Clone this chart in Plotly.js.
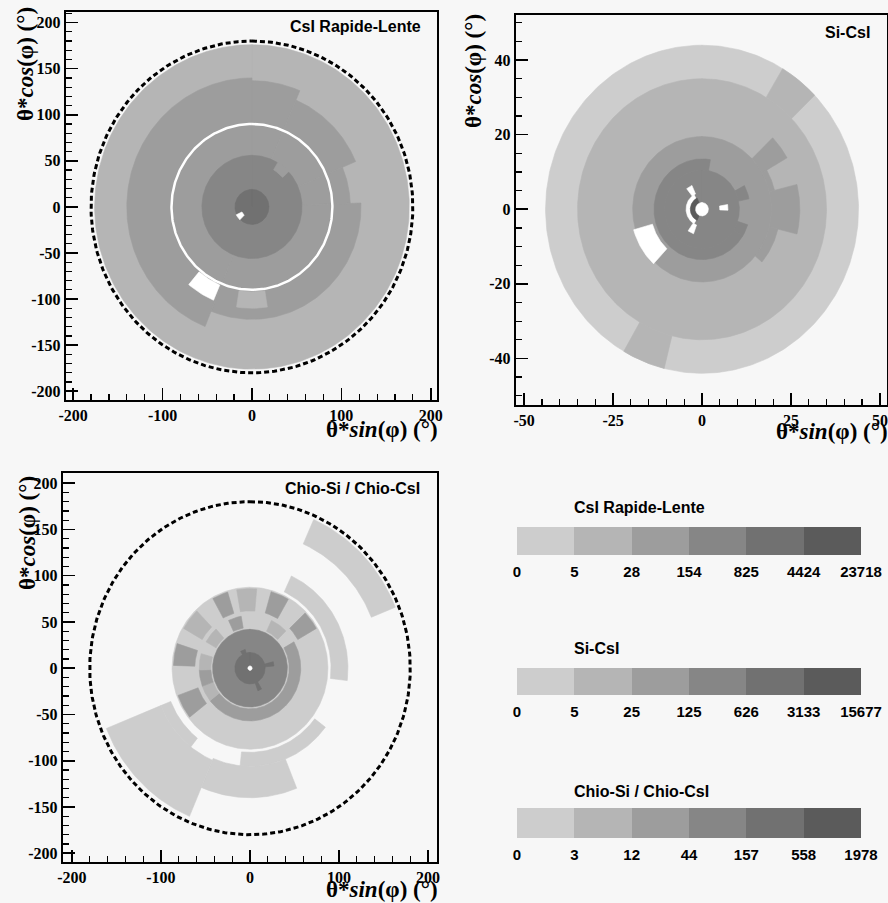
<!DOCTYPE html>
<html>
<head>
<meta charset="utf-8">
<script src="https://cdn.plot.ly/plotly-3.0.1.min.js"></script>
<style>
  html, body { margin: 0; padding: 0; background: #f7f7f7; }
  #chart { width: 888px; height: 903px; }
</style>
</head>
<body>
<div id="chart"></div>
<script>
// ---------------- DATA ----------------
// grey levels: 0 = empty (white), 1..6 = colour bins (light -> dark)
const levelColors = ['#ffffff', '#cdcdcd', '#b5b5b5', '#9d9d9d', '#868686', '#717171', '#5b5b5b'];

// Panel 1 : CsI Rapide-Lente  (theta ranges in deg, phi ranges in deg, level)
const p1_thetaMin = [0,   0,   0,  0,  0,   0,   92,  92,  0,   47, 0,   12.5];
const p1_thetaMax = [176, 137, 126, 110, 122, 140, 110, 110, 56,  57, 19,  19.5];
const p1_phiMin   = [0,   0,   23, 67, 88,  202, 203, 171, 0,   31, 0,   224];
const p1_phiMax   = [360, 23,  67, 88, 202, 360, 220, 189, 360, 47, 360, 244];
const p1_level    = [2,   3,   3,  3,  3,   3,   0,   2,   4,   3,  5,   0];
const p1_whiteRing = 90;
const p1_acceptance = 180;
const p1_xTicks = [-200, -100, 0, 100, 200];
const p1_yTicks = [-200, -150, -100, -50, 0, 50, 100, 150, 200];

// Panel 2 : Si-CsI
const p2_thetaMin = [0,  0,  35, 35,  0,    19.5, 19.5, 19.5, 19.5, 14.5, 0,    10.5, 10.5, 10.5, 5,   4.5, 4.5, 3.3, 2,   0];
const p2_thetaMax = [44, 35, 44, 44,  19.5, 27.6, 21,   27.5, 22,   20,   10.5, 13.5, 13.5, 13.5, 7.3, 7,   7,   4.5, 3.3, 1.8];
const p2_phiMin   = [0,  0,  31, 194, 0,    46,   60,   76,   104,  223,  0,    122,  62,   108,  80,  322, 200, 210, 205, 0];
const p2_phiMax   = [360,360,46, 210, 360,  60,   76,   104,  130,  254,  360,  370,  78,   122,  92,  336, 214, 330, 335, 360];
const p2_level    = [1,  2,  2,  2,   3,    3,    3,    3,    3,    0,    4,    4,    4,    4,    0,   0,   0,   0,   6,   0];
const p2_xTicks = [-50, -25, 0, 25, 50];
const p2_yTicks = [-40, -20, 0, 20, 40];

// Panel 3 : Chio-Si / Chio-CsI
const p3_thetaMin = [147, 91,  91,  106, 108, 96,  0,    44,  44,  44,  44,  44,  44,  44,  62,  62,  62,  62,  62,  62,  62,  0,   0,   17,  17,  17,  0];
const p3_thetaMax = [176, 110, 106, 140, 174, 108, 87.5, 57,  57,  57,  57,  57,  57,  57,  86,  86,  86,  86,  86,  86,  86,  42,  17,  27,  26,  21,  2.5];
const p3_phiMin   = [24,  25,  127, 158, 203, 218, 0,    60,  232, 250, 268, 300, 335, 25,  16,  46,  331, 272, 232, 300, 350, 0,   0,   75,  150, 330, 0];
const p3_phiMax   = [68,  97,  186, 203, 248, 248, 360,  232, 250, 268, 286, 318, 350, 45,  30,  60,  343, 288, 250, 316, 365, 360, 360, 85,  160, 345, 360];
const p3_level    = [1,   1,   1,   1,   1,   1,   1,    3,   2,   3,   2,   2,   3,   2,   3,   3,   3,   3,   3,   2,   2,   4,   5,   5,   5,   5,   0];
const p3_acceptance = 180;
const p3_xTicks = [-200, -100, 0, 100, 200];
const p3_yTicks = [-200, -150, -100, -50, 0, 50, 100, 150, 200];

// colour scale legends
const cb1_title = 'CsI Rapide-Lente';
const cb1_labels = ['0', '5', '28', '154', '825', '4424', '23718'];
const cb2_title = 'Si-CsI';
const cb2_labels = ['0', '5', '25', '125', '626', '3133', '15677'];
const cb3_title = 'Chio-Si / Chio-CsI';
const cb3_labels = ['0', '3', '12', '44', '157', '558', '1978'];
const cb_levels = [1, 2, 3, 4, 5, 6];

// ---------------- BUILD ----------------
const D2R = Math.PI / 180;
function sectorPoly(r0, r1, a0, a1) {
  const xs = [], ys = [];
  const n = Math.max(2, Math.ceil(Math.abs(a1 - a0)));
  for (let i = 0; i <= n; i++) {
    const a = (a0 + (a1 - a0) * i / n) * D2R;
    xs.push(r1 * Math.sin(a)); ys.push(r1 * Math.cos(a));
  }
  if (r0 > 0) {
    for (let i = n; i >= 0; i--) {
      const a = (a0 + (a1 - a0) * i / n) * D2R;
      xs.push(r0 * Math.sin(a)); ys.push(r0 * Math.cos(a));
    }
  } else { xs.push(0); ys.push(0); }
  xs.push(xs[0]); ys.push(ys[0]);
  return {xs, ys};
}
function circle(r, step) {
  const xs = [], ys = [];
  for (let a = 0; a <= 360; a += step) { xs.push(r * Math.sin(a * D2R)); ys.push(r * Math.cos(a * D2R)); }
  return {xs, ys};
}
const traces = [];
function addPanel(tMin, tMax, pMin, pMax, lvl, xa, ya) {
  for (let i = 0; i < tMin.length; i++) {
    const p = sectorPoly(tMin[i], tMax[i], pMin[i], pMax[i]);
    const c = levelColors[lvl[i]];
    traces.push({type: 'scatter', mode: 'lines', x: p.xs, y: p.ys, xaxis: xa, yaxis: ya,
      fill: 'toself', fillcolor: c, line: {color: c, width: 0.6}, hoverinfo: 'skip', showlegend: false});
  }
}
addPanel(p1_thetaMin, p1_thetaMax, p1_phiMin, p1_phiMax, p1_level, 'x', 'y');
addPanel(p2_thetaMin, p2_thetaMax, p2_phiMin, p2_phiMax, p2_level, 'x2', 'y2');
addPanel(p3_thetaMin, p3_thetaMax, p3_phiMin, p3_phiMax, p3_level, 'x3', 'y3');

(function () {
  const c = circle(p1_whiteRing, 1);
  traces.push({type: 'scatter', mode: 'lines', x: c.xs, y: c.ys, xaxis: 'x', yaxis: 'y',
    line: {color: '#ffffff', width: 2.5}, hoverinfo: 'skip', showlegend: false});
})();
[[p1_acceptance, 'x', 'y'], [p3_acceptance, 'x3', 'y3']].forEach(([r, xa, ya]) => {
  const c = circle(r, 1);
  traces.push({type: 'scatter', mode: 'lines', x: c.xs, y: c.ys, xaxis: xa, yaxis: ya,
    line: {color: '#000000', width: 3, dash: '5px,3px'}, hoverinfo: 'skip', showlegend: false});
});

// colour-scale legends: one horizontal bar segment per level
[['x4', 'y4'], ['x5', 'y5'], ['x6', 'y6']].forEach(([xa, ya]) => {
  cb_levels.forEach((l, i) => {
    traces.push({type: 'bar', orientation: 'h', x: [1], base: [i], y: [0], width: [1],
      xaxis: xa, yaxis: ya, marker: {color: levelColors[l], line: {width: 0}},
      hoverinfo: 'skip', showlegend: false});
  });
});

// ---------------- LAYOUT ----------------
const W = 888, H = 903;
const px = v => v / W, py = v => 1 - v / H;
function frameAxis(domain, range, tickVals, minor, anchor) {
  return {domain: domain, range: range, anchor: anchor,
    tickmode: 'array', tickvals: tickVals, ticktext: tickVals.map(v => String(v)),
    ticks: 'inside', ticklen: 12, tickwidth: 1.6, tickcolor: '#000',
    minor: {tickmode: 'linear', tick0: 0, dtick: minor, ticks: 'inside', ticklen: 6, tickwidth: 1.2, tickcolor: '#000'},
    showline: true, linewidth: 2.2, linecolor: '#000', mirror: true, showgrid: false, zeroline: false,
    tickfont: {family: 'Liberation Serif', size: 16, color: '#000', weight: 'bold'}, fixedrange: true};
}
function cbX(domain, labels, anchor) {
  return {domain: domain, range: [0, 6], anchor: anchor, tickmode: 'array', tickvals: [0, 1, 2, 3, 4, 5, 6], ticktext: labels, ticks: '',
    showline: false, showgrid: false, zeroline: false,
    tickfont: {family: 'Liberation Sans', size: 15, color: '#000', weight: 'bold'}, ticklabelstandoff: 6, fixedrange: true};
}
function cbY(domain, anchor) {
  return {domain: domain, range: [-0.5, 0.5], anchor: anchor, visible: false, fixedrange: true};
}

const layout = {
  width: W, height: H, margin: {l: 0, r: 0, t: 0, b: 0},
  paper_bgcolor: '#f7f7f7', plot_bgcolor: '#f7f7f7', showlegend: false,
  barmode: 'overlay', bargap: 0,
  xaxis: frameAxis([px(66), px(437)], [-208, 207], p1_xTicks, 20, 'y'),
  yaxis: frameAxis([py(400), py(12)], [-209.5, 211.5], p1_yTicks, 10, 'x'),
  xaxis2: frameAxis([px(516), px(887)], [-52.3, 52], p2_xTicks, 5, 'y2'),
  yaxis2: frameAxis([py(405), py(15)], [-52.5, 52.1], p2_yTicks, 5, 'x2'),
  xaxis3: frameAxis([px(63), px(437)], [-210, 210], p3_xTicks, 20, 'y3'),
  yaxis3: frameAxis([py(862), py(473)], [-209.5, 211], p3_yTicks, 10, 'x3'),
  xaxis4: cbX([px(517), px(861)], cb1_labels, 'y4'),
  yaxis4: cbY([py(555), py(527)], 'x4'),
  xaxis5: cbX([px(517), px(861)], cb2_labels, 'y5'),
  yaxis5: cbY([py(695), py(668)], 'x5'),
  xaxis6: cbX([px(517), px(861)], cb3_labels, 'y6'),
  yaxis6: cbY([py(838), py(808)], 'x6'),
  annotations: []
};

const yTitle = 'θ*<i>cos</i>(φ) (°)';
const xTitle = 'θ*<i>sin</i>(φ) (°)';
const titleFont = {family: 'Liberation Serif', size: 23, color: '#000', weight: 'bold'};
const labelFont = {family: 'Liberation Sans', size: 16, color: '#000', weight: 'bold'};
function ann(text, x, y, xanchor, yanchor, font, angle) {
  layout.annotations.push({text: text, x: px(x), y: py(y), xref: 'paper', yref: 'paper', xanchor: xanchor, yanchor: yanchor,
    showarrow: false, font: font, textangle: angle || 0});
}
ann(yTitle, 26, 5, 'center', 'top', titleFont, -90);
ann(yTitle, 474, 12, 'center', 'top', titleFont, -90);
ann(yTitle, 27, 474, 'center', 'top', titleFont, -90);
ann(xTitle, 440, 429, 'right', 'middle', titleFont);
ann(xTitle, 890, 431, 'right', 'middle', titleFont);
ann(xTitle, 440, 889, 'right', 'middle', titleFont);
ann('CsI Rapide-Lente', 423, 27, 'right', 'middle', labelFont);
ann('Si-CsI', 872, 32, 'right', 'middle', labelFont);
ann('Chio-Si / Chio-CsI', 422, 488, 'right', 'middle', labelFont);
ann(cb1_title, 572, 507, 'left', 'middle', labelFont);
ann(cb2_title, 572, 648, 'left', 'middle', labelFont);
ann(cb3_title, 572, 791, 'left', 'middle', labelFont);

Plotly.newPlot('chart', traces, layout, {staticPlot: true, displayModeBar: false});
</script>
</body>
</html>
